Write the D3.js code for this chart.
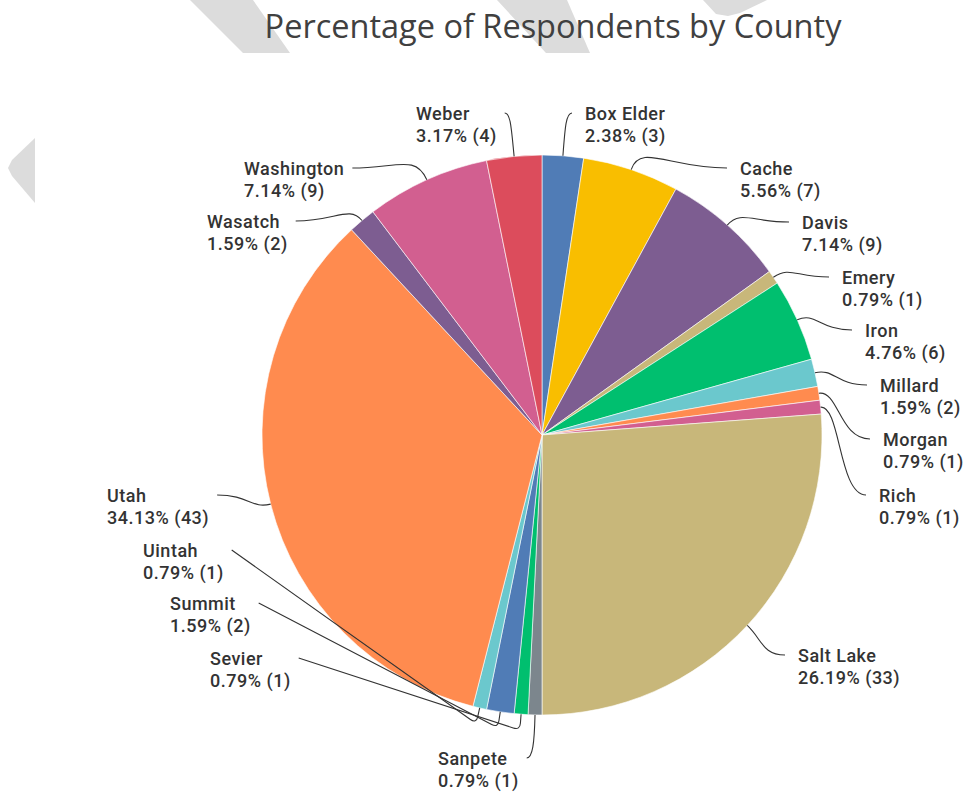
<!DOCTYPE html>
<html>
<head>
<meta charset="utf-8">
<script src="https://cdn.jsdelivr.net/npm/d3@7"></script>
<style>
  html, body { margin: 0; padding: 0; background: #fff; }
  svg { display: block; }
</style>
</head>
<body>
<svg id="chart" width="967" height="793"></svg>
<script>
// Respondent counts per county (clockwise from 12 o'clock)
const counties = ["Box Elder", "Cache", "Davis", "Emery", "Iron", "Millard", "Morgan", "Rich",
  "Salt Lake", "Sanpete", "Sevier", "Summit", "Uintah", "Utah", "Wasatch", "Washington", "Weber"];
const counts = [3, 7, 9, 1, 6, 2, 1, 1, 33, 1, 1, 2, 1, 43, 2, 9, 4];

// Slice fill per county
const sliceColors = ["#507cb6", "#f9be00", "#7d5d91", "#c8b77a", "#00bf6f", "#6bc8cd", "#ff8b4f", "#d25f90",
  "#c8b77a", "#7c868d", "#00bf6f", "#507cb6", "#6bc8cd", "#ff8b4f", "#7d5d91", "#d25f90", "#dc4c5c"];

// Label placement: text left edge, first-line baseline, and which side of the pie the text sits on
const labelX = [585, 740, 802, 842, 865, 880, 883, 879, 798, 438, 210, 170, 143, 107, 207, 244, 416];
const labelY = [120, 175, 229, 284, 337, 392, 446, 502, 662, 765, 665, 610, 557, 502, 228, 175, 120];
const labelSide = ["r", "r", "r", "r", "r", "r", "r", "r", "r", "l", "l", "l", "l", "l", "l", "l", "l"];

const titleText = "Percentage of Respondents by County";

const svg = d3.select("#chart");
const cx = 542, cy = 435, R = 280;

// Light grey slide decorations behind the chart
const decor = [
  [[190, 0], [253, 0], [290, 53], [243, 53]],
  [[497, 0], [567, 0], [590, 53], [546, 53]],
  [[703, 0], [767, 0], [740, 13], [728, 16], [716, 14]],
  [[35, 138], [35, 203], [12, 176], [8, 168], [12, 160]]
];
svg.append("g").selectAll("path").data(decor).join("path")
  .attr("d", d => d3.line()(d) + "Z")
  .attr("fill", "#dcdcdc");

// Title
svg.append("text")
  .attr("x", 553).attr("y", 38)
  .attr("text-anchor", "middle")
  .attr("font-family", "'Open Sans', 'Noto Sans', sans-serif")
  .attr("font-size", 32.5)
  .attr("fill", "#404040")
  .text(titleText);

const total = d3.sum(counts);
const data = counties.map((c, i) => ({ name: c, count: counts[i], color: sliceColors[i],
  lx: labelX[i], ly: labelY[i], side: labelSide[i] }));

const pie = d3.pie().sort(null).value(d => d.count).startAngle(0).endAngle(2 * Math.PI);
const arcs = pie(data);
const arc = d3.arc().innerRadius(0).outerRadius(R);

const g = svg.append("g").attr("transform", `translate(${cx},${cy})`);
g.selectAll("path.slice").data(arcs).join("path")
  .attr("class", "slice")
  .attr("d", arc)
  .attr("fill", d => d.data.color)
  .attr("stroke", "#ffffff")
  .attr("stroke-width", 0.6)
  .attr("stroke-linejoin", "round");

// Labels: county name on the first line, share and count on the second
const fmt = d3.format(".2f");
const labels = svg.append("g")
  .attr("font-family", "Roboto, 'Noto Sans', sans-serif")
  .attr("font-weight", 500)
  .attr("font-size", 18)
  .attr("letter-spacing", "0.5px")
  .attr("fill", "#333333");

const labelNodes = labels.selectAll("text").data(arcs).join("text")
  .attr("x", d => d.data.lx)
  .attr("y", d => d.data.ly);
labelNodes.append("tspan")
  .attr("x", d => d.data.lx)
  .text(d => d.data.name);
labelNodes.append("tspan")
  .attr("x", d => d.data.lx)
  .attr("dy", 22)
  .text(d => `${fmt(d.data.count / total * 100)}% (${d.data.count})`);

// Leader lines from each label to the middle of its slice's rim
const leaders = svg.append("g")
  .attr("fill", "none")
  .attr("stroke", "#333333")
  .attr("stroke-width", 1.1)
  .attr("stroke-linejoin", "round");

labelNodes.each(function (d) {
  const widths = Array.from(this.querySelectorAll("tspan")).map(t => t.getComputedTextLength());
  const textW = d3.max(widths);
  const ay = d.data.ly - 7;
  const ax = d.data.side === "r" ? d.data.lx - 13 : d.data.lx + textW + 8;
  const mid = (d.startAngle + d.endAngle) / 2;
  const ux = Math.sin(mid), uy = -Math.cos(mid);
  const px = cx + R * ux, py = cy + R * uy;
  const p = d3.path();
  p.moveTo(ax, ay);
  if (Math.abs(uy) > 0.9 && Math.abs(px - ax) > 100) {
    // long run under the pie: straight to an elbow below the rim, then a short radial tick
    const k = 16;
    const ex = px + ux * k, ey = py + uy * k;
    const dx = ex - ax, dy = ey - ay, len = Math.hypot(dx, dy);
    const rc = 7;
    p.lineTo(ex - dx / len * rc, ey - dy / len * rc);
    p.quadraticCurveTo(ex, ey, ex - ux * rc, ey - uy * rc);
    p.lineTo(px, py);
  } else {
    // smooth S-curve: leaves the label horizontally, meets the rim radially
    const dir = d.data.side === "r" ? -1 : 1;
    const h = Math.max(6, Math.min(60, Math.abs(px - ax) * 0.6));
    const k = Math.abs(uy) > 0.9 ? 28 : 20;
    p.bezierCurveTo(ax + dir * h, ay, px + ux * k, py + uy * k, px, py);
  }
  leaders.append("path").attr("d", p.toString());
});
</script>
</body>
</html>
